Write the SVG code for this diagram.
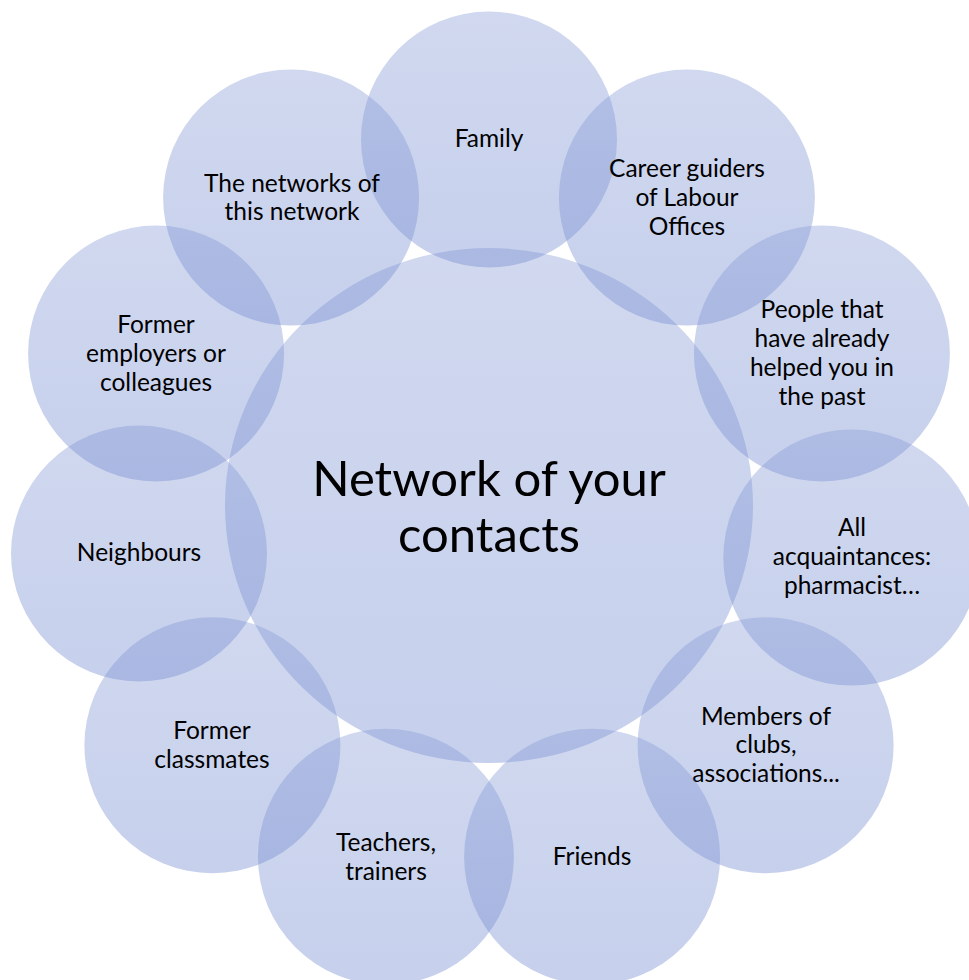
<svg xmlns="http://www.w3.org/2000/svg" width="969" height="980" viewBox="0 0 969 980">
  <defs>
    <!-- translucent blue fill shared by every bubble, slightly deeper toward the bottom -->
    <linearGradient id="bubbleFill" x1="0" y1="0" x2="0" y2="1">
      <stop offset="0" stop-color="#8599d6" stop-opacity="0.38"/>
      <stop offset="1" stop-color="#7189cf" stop-opacity="0.40"/>
    </linearGradient>
  </defs>
  <style>
    .bubble { fill: url(#bubbleFill); stroke: none; }
    .label { font-family: Lato, "Open Sans", "Liberation Sans", sans-serif; font-size: 24.5px; fill: #000000; text-anchor: middle; }
    .hub { font-family: Lato, "Open Sans", "Liberation Sans", sans-serif; font-size: 49px; fill: #000000; text-anchor: middle; }
  </style>

  <rect width="969" height="980" fill="#ffffff"/>

  <!-- central hub -->
  <g id="hub">
    <ellipse class="bubble" cx="489" cy="505.5" rx="264" ry="257.5"/>
    <text class="hub" x="489" y="496">Network of your</text>
    <text class="hub" x="489" y="552">contacts</text>
  </g>

  <!-- surrounding contact groups -->
  <g id="family">
    <circle class="bubble" cx="489" cy="139.5" r="128"/>
    <text class="label" x="489" y="147">Family</text>
  </g>

  <g id="career-guiders">
    <circle class="bubble" cx="686.9" cy="197.6" r="128"/>
    <text class="label" x="687" y="177">Career guiders</text>
    <text class="label" x="687" y="206">of Labour</text>
    <text class="label" x="687" y="235">Offices</text>
  </g>

  <g id="past-helpers">
    <circle class="bubble" cx="821.9" cy="353.5" r="128"/>
    <text class="label" x="822" y="318">People that</text>
    <text class="label" x="822" y="347">have already</text>
    <text class="label" x="822" y="376">helped you in</text>
    <text class="label" x="822" y="405">the past</text>
  </g>

  <g id="acquaintances">
    <circle class="bubble" cx="851.3" cy="557.6" r="128"/>
    <text class="label" x="852" y="536">All</text>
    <text class="label" x="852" y="565">acquaintances:</text>
    <text class="label" x="852" y="594">pharmacist…</text>
  </g>

  <g id="club-members">
    <circle class="bubble" cx="765.6" cy="745.2" r="128"/>
    <text class="label" x="766" y="725">Members of</text>
    <text class="label" x="766" y="753">clubs,</text>
    <text class="label" x="766" y="782">associations...</text>
  </g>

  <g id="friends">
    <circle class="bubble" cx="592.1" cy="856.7" r="128"/>
    <text class="label" x="592" y="865">Friends</text>
  </g>

  <g id="teachers">
    <circle class="bubble" cx="385.9" cy="856.7" r="128"/>
    <text class="label" x="386" y="851">Teachers,</text>
    <text class="label" x="386" y="880">trainers</text>
  </g>

  <g id="classmates">
    <circle class="bubble" cx="212.4" cy="745.2" r="128"/>
    <text class="label" x="212" y="739">Former</text>
    <text class="label" x="212" y="768">classmates</text>
  </g>

  <g id="neighbours">
    <circle class="bubble" cx="139" cy="553.5" r="128"/>
    <text class="label" x="139" y="561">Neighbours</text>
  </g>

  <g id="former-employers">
    <circle class="bubble" cx="156.1" cy="353.5" r="128"/>
    <text class="label" x="156" y="333">Former</text>
    <text class="label" x="156" y="362">employers or</text>
    <text class="label" x="156" y="391">colleagues</text>
  </g>

  <g id="wider-network">
    <circle class="bubble" cx="291.1" cy="197.6" r="128"/>
    <text class="label" x="292" y="192">The networks of</text>
    <text class="label" x="292" y="220">this network</text>
  </g>

  <!-- no connectors: the bubbles touch and overlap directly -->
  <g id="connectors"/>
</svg>
